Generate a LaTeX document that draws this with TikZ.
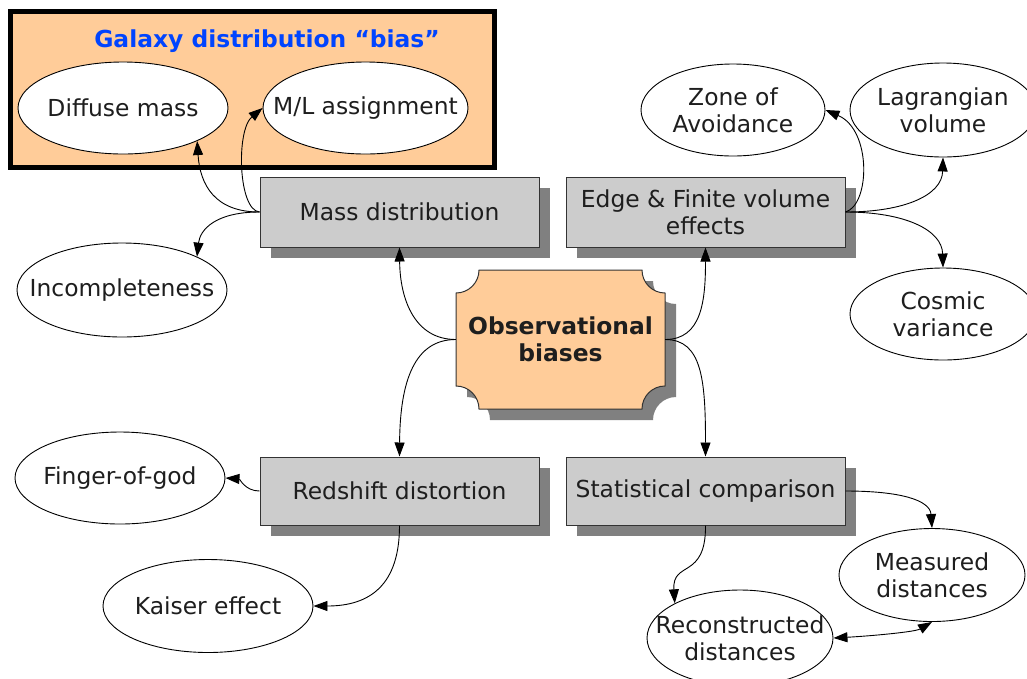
\documentclass[tikz,border=0pt]{standalone}
\usepackage{fontspec}
\setmainfont{DejaVu Sans}
\usetikzlibrary{arrows.meta,shapes.geometric,shadows}
\definecolor{peach}{RGB}{255,204,153}
\definecolor{boxgray}{RGB}{204,204,204}
\definecolor{shadowgray}{RGB}{128,128,128}
\definecolor{titleblue}{RGB}{0,68,255}
\definecolor{txt}{RGB}{30,30,30}
\begin{document}
\begin{tikzpicture}[x=1pt,y=1pt,
  font=\fontsize{23.4}{27}\selectfont,
  every node/.style={text=txt},
  myshadow/.style={drop shadow={shadow xshift=11pt,shadow yshift=-11pt,fill=shadowgray,opacity=1}},
  rectbox/.style={rectangle,draw=black!80,line width=1pt,fill=boxgray,myshadow,inner sep=0pt,align=center},
  ell/.style={ellipse,draw=black,line width=0.9pt,fill=white,inner sep=0pt},
  lbl/.style={align=center,inner sep=0pt},
  conn/.style={line width=0.9pt,-{Triangle[length=14pt,width=10pt]}},
  biconn/.style={line width=0.9pt,{Triangle[length=14pt,width=10pt]}-{Triangle[length=14pt,width=10pt]}}]
\useasboundingbox (0,0) rectangle (1027,-678);

% cluster
\node[draw=black,line width=5pt,fill=peach,minimum width=484pt,minimum height=156pt,inner sep=0pt] (cluster) at (252.5,-89.5) {};
\node[text=titleblue,font=\fontsize{23.4}{27}\selectfont\bfseries] (title) at (267,-41) {Galaxy distribution “bias”};

% ellipses
\node[ell,minimum width=210pt,minimum height=92pt] (diffuse) at (123,-108) {};
\node[lbl] at (diffuse) {Diffuse mass};
\node[ell,minimum width=205pt,minimum height=92pt] (ml) at (365.5,-108) {};
\node[lbl] at (ml) {M/L assignment};
\node[ell,minimum width=184pt,minimum height=92pt] (zone) at (733,-110) {};
\node[lbl] at (zone) {Zone of\\Avoidance};
\node[ell,minimum width=186pt,minimum height=94pt] (lag) at (943,-110) {};
\node[lbl] at (lag) {Lagrangian\\volume};
\node[ell,minimum width=186pt,minimum height=92pt] (cosmic) at (943,-314) {};
\node[lbl] at (cosmic) {Cosmic\\variance};
\node[ell,minimum width=210pt,minimum height=94pt] (incomp) at (122,-290) {};
\node[lbl] at (incomp) {Incompleteness};
\node[ell,minimum width=210pt,minimum height=92pt] (finger) at (120,-478) {};
\node[lbl] at (finger) {Finger-of-god};
\node[ell,minimum width=210pt,minimum height=93pt] (kaiser) at (208,-606) {};
\node[lbl] at (kaiser) {Kaiser effect};
\node[ell,minimum width=186pt,minimum height=93pt] (measured) at (932,-575) {};
\node[lbl] at (measured) {Measured\\distances};
\node[ell,minimum width=186pt,minimum height=96pt] (rec) at (740,-638) {};
\node[lbl] at (rec) {Reconstructed\\distances};

% rectangles
\node[rectbox,minimum width=279pt,minimum height=70pt] (mass) at (399.5,-212) {Mass distribution};
\node[rectbox,minimum width=279pt,minimum height=70pt] (edge) at (705.5,-212) {Edge \& Finite volume\\effects};
\node[rectbox,minimum width=279pt,minimum height=68pt] (redshift) at (399.5,-491) {Redshift distortion};
\node[rectbox,minimum width=279pt,minimum height=68pt] (stat) at (705.5,-491) {Statistical comparison};

% central node
\path[draw=black!80,line width=1pt,fill=peach,myshadow]
  (479,-270) -- (642,-270) arc[start angle=180,end angle=270,radius=23pt]
  -- (665,-386) arc[start angle=90,end angle=180,radius=23pt]
  -- (479,-409) arc[start angle=0,end angle=90,radius=23pt]
  -- (456,-293) arc[start angle=270,end angle=360,radius=23pt] -- cycle;
\node[lbl,minimum width=209pt,minimum height=139pt,font=\fontsize{23.4}{27}\selectfont\bfseries] (obs) at (560.5,-339.5) {Observational\\biases};

% connectors
\draw[conn] (obs.west) .. controls (415,-339.5) and (400,-300) .. (mass.south);
\draw[conn] (obs.west) .. controls (415,-339.5) and (400,-380) .. (redshift.north);
\draw[conn] (obs.east) .. controls (702,-339.5) and (705.5,-300) .. (edge.south);
\draw[conn] (obs.east) .. controls (702,-339.5) and (705.5,-380) .. (stat.north);

\draw[conn] (mass.west) .. controls (215,-212) and (200,-185) .. (diffuse.-24);
\draw[conn] (mass.west) .. controls (238,-210) and (236,-130) .. (ml.west);
\draw[conn] (mass.west) .. controls (215,-212) and (200,-230) .. (incomp.24);

\draw[conn] (edge.east) .. controls (870,-205) and (872,-130) .. (zone.east);
\draw[conn] (edge.east) .. controls (905,-212) and (942,-195) .. (lag.south);
\draw[conn] (edge.east) .. controls (905,-212) and (942,-230) .. (cosmic.north);

\draw[conn] (redshift.west) .. controls (245,-491) and (240,-479) .. (finger.east);
\draw[conn] (redshift.south) .. controls (399.5,-585) and (370,-606) .. (kaiser.east);

\draw[conn] (stat.east) .. controls (900,-491) and (930,-500) .. (measured.north);
\draw[conn] (stat.south) .. controls (706,-580) and (672,-560) .. (rec.152);
\draw[biconn] (rec.east) .. controls (870,-636) and (915,-632) .. (measured.south);
\end{tikzpicture}
\end{document}
